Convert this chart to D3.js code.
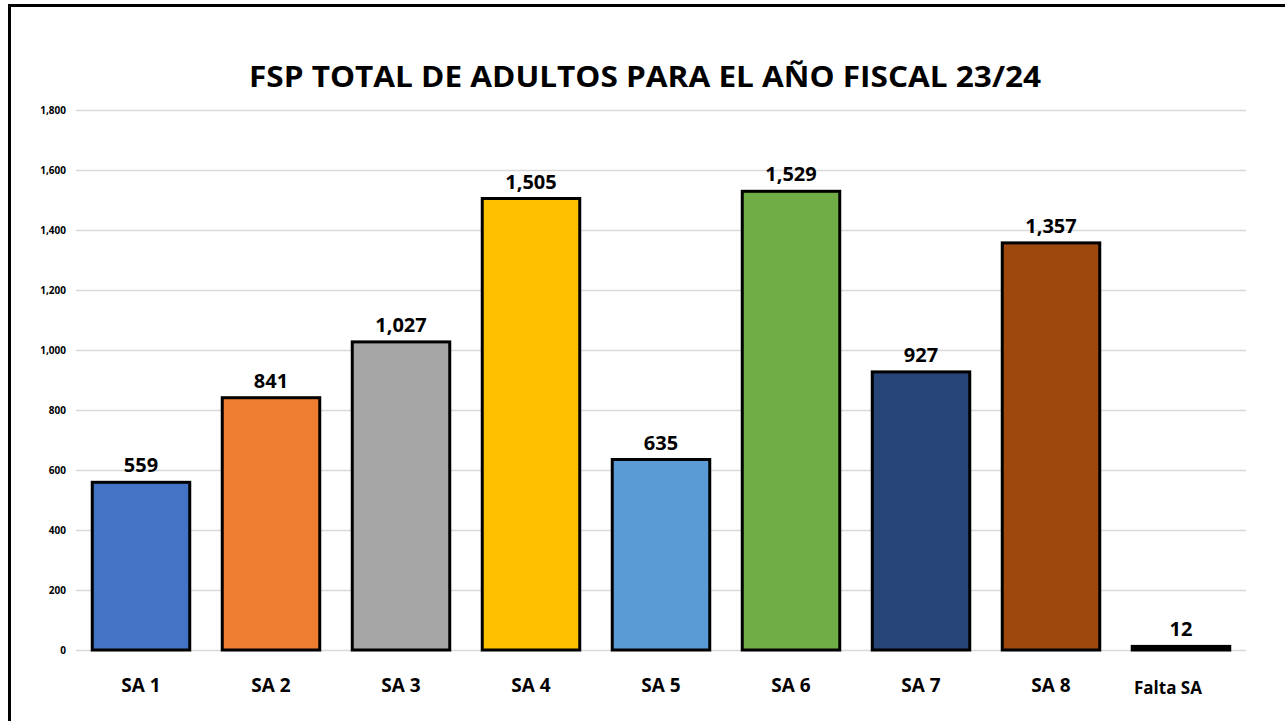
<!DOCTYPE html>
<html lang="es">
<head>
<meta charset="UTF-8">
<title>FSP Total de Adultos</title>
<script src="https://d3js.org/d3.v7.min.js"></script>
<style>
  body { margin: 0; background: #fff; }
  text { font-family: "Open Sans", "Noto Sans", sans-serif; font-weight: bold; fill: #000; }
  .grid line { stroke: #d9d9d9; stroke-width: 1.5px; }
  .grid path { display: none; }
</style>
</head>
<body>
<div id="chart"></div>
<script>
// data
const categories = ["SA 1", "SA 2", "SA 3", "SA 4", "SA 5", "SA 6", "SA 7", "SA 8", "Falta SA"];
const values = [559, 841, 1027, 1505, 635, 1529, 927, 1357, 12];
const colors = ["#4472c4", "#ed7d31", "#a5a5a5", "#ffc000", "#5b9bd5", "#70ad47", "#264478", "#9e480e", "#000000"];
const yTicks = [0, 200, 400, 600, 800, 1000, 1200, 1400, 1600, 1800];

const W = 1285, H = 721;
const plot = { left: 76, right: 1246, top: 110, bottom: 650 };

const svg = d3.select("#chart").append("svg")
    .attr("width", W)
    .attr("height", H);

// frame (top and left edges visible)
svg.append("path")
    .attr("d", "M9.5," + H + "V5.5H" + W)
    .attr("fill", "none")
    .attr("stroke", "#000")
    .attr("stroke-width", 3);

// scales
const x = d3.scaleBand()
    .domain(categories)
    .range([plot.left, plot.right])
    .paddingInner(0.25)
    .paddingOuter(0.125);
const y = d3.scaleLinear()
    .domain([0, 1800])
    .range([plot.bottom, plot.top]);

// gridlines
svg.append("g")
    .attr("class", "grid")
    .attr("transform", "translate(" + plot.left + ",0)")
    .call(d3.axisRight(y).tickValues(yTicks).tickSize(plot.right - plot.left).tickFormat(""));

// y labels
svg.append("g")
    .selectAll("text")
    .data(yTicks)
    .join("text")
    .attr("x", 66)
    .attr("y", d => y(d))
    .attr("dy", "0.35em")
    .attr("text-anchor", "end")
    .style("font-size", "10px")
    .text(d => d3.format(",")(d));

// bars
svg.append("g")
    .selectAll("rect")
    .data(values)
    .join("rect")
    .attr("x", (d, i) => x(categories[i]))
    .attr("width", x.bandwidth())
    .attr("y", d => y(d))
    .attr("height", d => y(0) - y(d))
    .attr("fill", (d, i) => colors[i])
    .attr("stroke", "#000")
    .attr("stroke-width", 3);

// value labels
svg.append("g")
    .selectAll("text")
    .data(values)
    .join("text")
    .attr("x", (d, i) => x(categories[i]) + x.bandwidth() / 2)
    .attr("y", d => y(d) - 10)
    .attr("text-anchor", "middle")
    .style("font-size", "20px")
    .text(d => d3.format(",")(d));

// category labels ("Falta SA" sits a little left of its bar, smaller)
svg.append("g")
    .selectAll("text")
    .data(categories)
    .join("text")
    .attr("x", d => x(d) + x.bandwidth() / 2 - (d === "Falta SA" ? 13 : 0))
    .attr("y", d => d === "Falta SA" ? 694 : 692)
    .attr("text-anchor", "middle")
    .style("font-size", d => d === "Falta SA" ? "17px" : "19px")
    .text(d => d);

// title
svg.append("text")
    .attr("x", 645)
    .attr("y", 87)
    .attr("text-anchor", "middle")
    .style("font-size", "29px")
    .attr("textLength", 792)
    .attr("lengthAdjust", "spacingAndGlyphs")
    .text("FSP TOTAL DE ADULTOS PARA EL AÑO FISCAL 23/24");
</script>
</body>
</html>
